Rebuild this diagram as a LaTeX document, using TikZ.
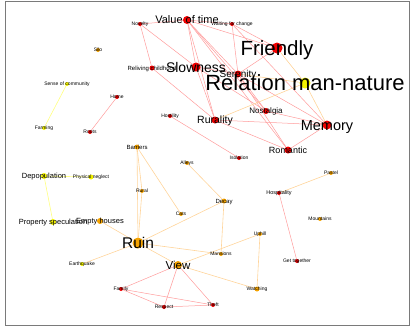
\documentclass[tikz,border=0pt]{standalone}
\usepackage{fontspec}
\setmainfont{Liberation Sans}
\pgfdeclarelayer{background}
\pgfdeclarelayer{foreground}
\pgfsetlayers{background,main,foreground}
\definecolor{nred}{HTML}{F00000}
\definecolor{norange}{HTML}{F5A300}
\definecolor{nyellow}{HTML}{F2F200}
\definecolor{ered}{HTML}{FF9C9C}
\definecolor{eorange}{HTML}{FFD49A}
\definecolor{eyellow}{HTML}{FFFF80}
\definecolor{framegray}{HTML}{7A7A7A}
\tikzset{
  dot/.style={circle, inner sep=0pt, draw=none},
  lbl/.style={anchor=base, inner sep=0pt, text=black},
  redge/.style={draw=ered, line width=0.5pt},
  oedge/.style={draw=eorange, line width=0.6pt},
  yedge/.style={draw=eyellow, line width=0.6pt},
  frame/.style={draw=framegray, line width=1pt}
}
\newcommand\gn[7]{%
  \node[dot, minimum size=#4*2pt, fill=#5] (#1) at (#2,#3) {};
  \begin{pgfonlayer}{foreground}
    \node[lbl, font=\fontsize{#6}{#6}\selectfont] (#1-l) at ([yshift={-0.36*#6pt}]#1.center) {#7};
  \end{pgfonlayer}}
\begin{document}
\begin{tikzpicture}[x=1pt, y=-1pt]
\useasboundingbox (0,0) rectangle (414,327);
\draw[frame] (5,1) rectangle (409,325);
% red nodes
\gn{nov}{140}{24}{2}{nred}{5}{Novelty}
\gn{vot}{187}{20}{4}{nred}{11}{Value of time}
\gn{wfc}{232}{24}{2}{nred}{5}{Waiting for change}
\gn{rch}{152}{68}{2.5}{nred}{6}{Reliving childhood}
\gn{slo}{196}{67}{4.5}{nred}{14}{Slowness}
\gn{ser}{238}{74}{3.5}{nred}{10}{Serenity}
\gn{fri}{277}{48}{5.5}{nred}{20.5}{Friendly}
\gn{rmn}{305}{83}{5.5}{nyellow}{22}{Relation man-nature}
\gn{nos}{266}{111}{3}{nred}{8}{Nostalgia}
\gn{mem}{327}{125}{4.5}{nred}{14.5}{Memory}
\gn{rur}{215}{120}{3.5}{nred}{10.5}{Rurality}
\gn{rom}{288}{150}{3.5}{nred}{9}{Romantic}
\gn{hos}{170}{116}{2}{nred}{5}{Hostility}
\gn{iso}{239}{158}{2}{nred}{5}{Isolation}
\gn{hom}{117}{97}{2}{nred}{5}{Home}
\gn{roo}{90}{132}{2}{nred}{5}{Roots}
\gn{hsp}{279}{193}{2}{nred}{5.5}{Hospitality}
\gn{get}{297}{261}{2}{nred}{5}{Get together}
\gn{fam}{121}{289}{2}{nred}{5}{Family}
\gn{res}{164}{307}{2}{nred}{5}{Respect}
\gn{the}{213}{305}{2}{nred}{5}{Theft}
% orange nodes
\gn{sil}{98}{50}{2}{norange}{5}{Silo}
\gn{bar}{137}{147}{2.5}{norange}{6}{Barriers}
\gn{rul}{142}{191}{2}{norange}{5}{Rural}
\gn{all}{187}{163}{2}{norange}{5}{Alleys}
\gn{cat}{181}{214}{2}{norange}{5}{Cats}
\gn{dec}{224}{201}{2.5}{norange}{6}{Decay}
\gn{rui}{138}{243}{5.5}{norange}{15.5}{Ruin}
\gn{emp}{100}{221}{3}{norange}{7.5}{Empty houses}
\gn{man}{221}{254}{2}{norange}{5}{Mansions}
\gn{vie}{178}{265}{4}{norange}{11.5}{View}
\gn{uph}{260}{234}{2}{norange}{5}{Uphill}
\gn{wat}{257}{289}{2.5}{norange}{5}{Watching}
\gn{mou}{320}{219}{2}{norange}{5}{Mountains}
\gn{pas}{331}{173}{2}{norange}{5}{Pastel}
% yellow nodes
\gn{psp}{53}{222}{3}{nyellow}{7.5}{Property speculation}
\gn{ear}{82}{264}{2}{nyellow}{5}{Earthquake}
\gn{soc}{67}{84}{2}{nyellow}{5}{Sense of community}
\gn{far}{44}{128}{2}{nyellow}{5}{Farming}
\gn{dep}{44}{176}{3}{nyellow}{7.5}{Depopulation}
\gn{phn}{91}{177}{2.5}{nyellow}{5}{Physical neglect}
% edges
\begin{pgfonlayer}{background}
\draw[redge] (nov) -- (vot);
\draw[redge] (nov) -- (rch);
\draw[redge] (nov) -- (slo);
\draw[redge] (vot) -- (wfc);
\draw[redge] (vot) -- (slo);
\draw[redge] (vot) -- (ser);
\draw[redge] (vot) -- (rur);
\draw[redge] (vot) -- (fri);
\draw[redge] (vot) -- (nos);
\draw[redge] (vot) -- (rom);
\draw[redge] (wfc) -- (ser);
\draw[redge] (wfc) -- (fri);
\draw[redge] (wfc) -- (mem);
\draw[redge] (rch) -- (rur);
\draw[redge] (slo) -- (ser);
\draw[redge] (slo) -- (rur);
\draw[redge] (slo) -- (nos);
\draw[redge] (ser) -- (fri);
\draw[redge] (ser) -- (nos);
\draw[redge] (ser) -- (rom);
\draw[redge] (ser) -- (mem);
\draw[redge] (rur) -- (mem);
\draw[redge] (rur) -- (rom);
\draw[redge] (nos) -- (mem);
\draw[redge] (rom) -- (mem);
\draw[redge] (hos) -- (iso);
\draw[redge] (hom) -- (roo);
\draw[redge] (hsp) -- (get);
\draw[redge] (fam) -- (res);
\draw[redge] (fam) -- (the);
\draw[redge] (fam) -- (vie);
\draw[redge] (vie) -- (res);
\draw[redge] (vie) -- (the);
\draw[redge] (res) -- (the);
\draw[oedge] (fri) -- (rmn);
\draw[oedge] (rmn) -- (rur);
\draw[oedge] (rmn) -- (mem);
\draw[oedge] (ser) -- (rmn);
\draw[oedge] (hsp) -- (pas);
\draw[oedge] (bar) -- (rul);
\draw[oedge] (bar) -- (rui);
\draw[oedge] (rul) -- (rui);
\draw[oedge] (bar) -- (cat);
\draw[oedge] (all) -- (dec);
\draw[oedge] (dec) -- (rui);
\draw[oedge] (dec) -- (man);
\draw[oedge] (rui) -- (man);
\draw[oedge] (rui) -- (vie);
\draw[oedge] (vie) -- (uph);
\draw[oedge] (uph) -- (wat);
\draw[oedge] (vie) -- (wat);
\draw[oedge] (rui) -- (emp);
\draw[oedge] (rui) -- (ear);
\draw[yedge] (soc) -- (far);
\draw[yedge] (dep) -- (phn);
\draw[yedge] (dep) -- (psp);
\end{pgfonlayer}
\end{tikzpicture}
\end{document}
